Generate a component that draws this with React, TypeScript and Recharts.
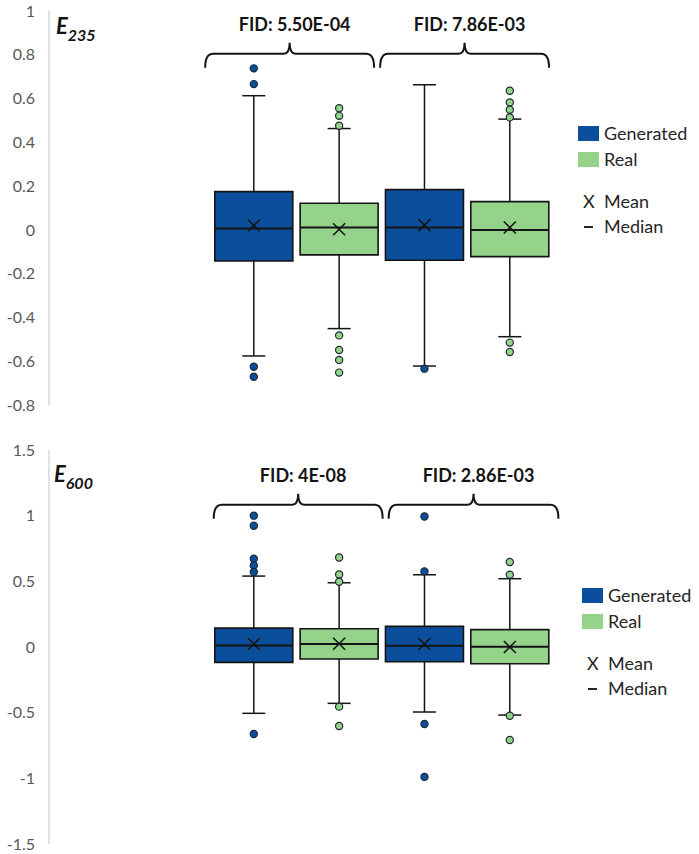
import React from 'react';
import { ComposedChart, XAxis, YAxis, Scatter, ReferenceArea, ReferenceLine, Legend } from 'recharts';

const GEN_COLOR = '#0B4F9C';
const REAL_COLOR = '#95D38B';
const INK = '#141414';
const FONT = 'Lato, "Open Sans", sans-serif';

// box order, left to right
const SERIES = ['Generated', 'Real', 'Generated', 'Real'];
const BOX_X = [1, 2, 3, 4];

// E235 panel
const e235Ticks = [-0.8, -0.6, -0.4, -0.2, 0, 0.2, 0.4, 0.6, 0.8, 1];
const e235Min = [-0.576, -0.451, -0.622, -0.488];
const e235Q1 = [-0.142, -0.114, -0.139, -0.122];
const e235Median = [0.006, 0.011, 0.011, 0.0];
const e235Q3 = [0.175, 0.122, 0.184, 0.129];
const e235Max = [0.613, 0.463, 0.663, 0.506];
const e235Mean = [0.02, 0.003, 0.022, 0.011];
const e235Outliers = [
  [0.738, 0.666, -0.625, -0.671],
  [0.556, 0.521, 0.476, -0.482, -0.549, -0.594, -0.652],
  [-0.634],
  [0.636, 0.582, 0.549, 0.514, -0.515, -0.558],
];
const e235Fid = ['FID: 5.50E-04', 'FID: 7.86E-03'];

// E600 panel
const e600Ticks = [-1.5, -1, -0.5, 0, 0.5, 1, 1.5];
const e600Min = [-0.505, -0.429, -0.495, -0.518];
const e600Q1 = [-0.117, -0.091, -0.112, -0.127];
const e600Median = [0.012, 0.023, 0.01, 0.002];
const e600Q3 = [0.144, 0.139, 0.157, 0.132];
const e600Max = [0.54, 0.489, 0.55, 0.52];
const e600Mean = [0.023, 0.025, 0.023, 0.0];
const e600Outliers = [
  [1.0, 0.923, 0.672, 0.621, 0.571, -0.662],
  [0.682, 0.552, 0.497, -0.454, -0.601],
  [0.994, 0.575, -0.586, -0.989],
  [0.647, 0.55, -0.523, -0.708],
];
const e600Fid = ['FID: 4E-08', 'FID: 2.86E-03'];

const HALF = 0.457; // half box width, in box units
const CAP = 0.135; // half whisker cap width

const colorOf = (s: string) => (s === 'Generated' ? GEN_COLOR : REAL_COLOR);

const braceShape = (text: string) => (p: any) => {
  const { x1, y1, x2 } = p;
  const y = y1;
  const mid = (x1 + x2) / 2;
  const d = `M${x1},${y + 14} Q${x1},${y} ${x1 + 8},${y} L${mid - 6},${y} Q${mid},${y} ${mid},${y - 11} Q${mid},${y} ${mid + 6},${y} L${x2 - 8},${y} Q${x2},${y} ${x2},${y + 14}`;
  return (
    <g>
      <path d={d} fill="none" stroke={INK} strokeWidth={2} />
      <text x={mid + 5} y={y - 23} textAnchor="middle" fontFamily={FONT} fontWeight="bold" fontSize={18} fill={INK}>
        {text}
      </text>
    </g>
  );
};

const MeanMark = (p: any) => (
  <g stroke={INK} strokeWidth={1.6}>
    <line x1={p.cx - 6} y1={p.cy - 6} x2={p.cx + 6} y2={p.cy + 6} />
    <line x1={p.cx - 6} y1={p.cy + 6} x2={p.cx + 6} y2={p.cy - 6} />
  </g>
);

const Dot = (fill: string) => (p: any) => (
  <circle cx={p.cx} cy={p.cy} r={3.6} fill={fill} stroke="#1c2a38" strokeWidth={1.2} />
);

const LegendBox = () => (
  <div style={{ position: 'relative', width: 120, height: 110, fontFamily: FONT, fontSize: 18, color: '#262626' }}>
    <div style={{ position: 'absolute', left: 0, top: 0, width: 21, height: 15, background: GEN_COLOR }} />
    <div style={{ position: 'absolute', left: 26, top: -4, lineHeight: '23px' }}>Generated</div>
    <div style={{ position: 'absolute', left: 0, top: 26, width: 21, height: 15, background: REAL_COLOR }} />
    <div style={{ position: 'absolute', left: 26, top: 22, lineHeight: '23px' }}>Real</div>
    <div style={{ position: 'absolute', left: 5, top: 64, lineHeight: '23px' }}>X</div>
    <div style={{ position: 'absolute', left: 26, top: 64, lineHeight: '23px' }}>Mean</div>
    <div style={{ position: 'absolute', left: 6, top: 100, width: 9, height: 1.5, background: '#262626' }} />
    <div style={{ position: 'absolute', left: 26, top: 89, lineHeight: '23px' }}>Median</div>
  </div>
);

type PanelProps = {
  ticks: number[];
  min: number[];
  q1: number[];
  median: number[];
  q3: number[];
  max: number[];
  mean: number[];
  outliers: number[][];
  fid: string[];
  braces: number[][];
  braceY: number;
  margin: { top: number; bottom: number };
  legendPos: { left: number; top: number };
};

function BoxPanel(props: PanelProps) {
  const { ticks, min, q1, median, q3, max, mean, outliers, fid, braces, braceY, margin, legendPos } = props;
  const meanData = BOX_X.map((x, i) => ({ x, y: mean[i] }));
  const outData = (name: string) =>
    BOX_X.flatMap((x, i) => (SERIES[i] === name ? outliers[i].map((y) => ({ x, y })) : []));

  return (
    <ComposedChart width={699} height={427} margin={{ top: margin.top, right: 138, bottom: margin.bottom, left: 0 }}>
      <XAxis type="number" dataKey="x" domain={[-1.4, 4.6]} hide allowDataOverflow />
      <YAxis
        type="number"
        domain={[ticks[0], ticks[ticks.length - 1]]}
        ticks={ticks}
        interval={0}
        width={49}
        allowDataOverflow
        tickLine={false}
        tickSize={0}
        tickMargin={14}
        axisLine={{ stroke: '#d9d9d9', strokeWidth: 1.5 }}
        tick={{ fill: '#595959', fontSize: 16, fontFamily: FONT }}
        tickFormatter={(v: number) => String(v)}
      />
      {BOX_X.map((x, i) => (
        <ReferenceArea
          key={`box${i}`}
          x1={x - HALF}
          x2={x + HALF}
          y1={q1[i]}
          y2={q3[i]}
          fill={colorOf(SERIES[i])}
          fillOpacity={1}
          stroke={INK}
          strokeWidth={1.6}
        />
      ))}
      {BOX_X.flatMap((x, i) => [
        <ReferenceLine key={`wu${i}`} segment={[{ x, y: q3[i] }, { x, y: max[i] }]} stroke={INK} strokeWidth={1.5} />,
        <ReferenceLine key={`wl${i}`} segment={[{ x, y: min[i] }, { x, y: q1[i] }]} stroke={INK} strokeWidth={1.5} />,
        <ReferenceLine key={`cu${i}`} segment={[{ x: x - CAP, y: max[i] }, { x: x + CAP, y: max[i] }]} stroke={INK} strokeWidth={1.5} />,
        <ReferenceLine key={`cl${i}`} segment={[{ x: x - CAP, y: min[i] }, { x: x + CAP, y: min[i] }]} stroke={INK} strokeWidth={1.5} />,
        <ReferenceLine key={`md${i}`} segment={[{ x: x - HALF, y: median[i] }, { x: x + HALF, y: median[i] }]} stroke={INK} strokeWidth={2} />,
      ])}
      {braces.map((b, i) => (
        <ReferenceLine
          key={`brace${i}`}
          segment={[{ x: b[0], y: braceY }, { x: b[1], y: braceY }]}
          stroke={INK}
          shape={braceShape(fid[i])}
        />
      ))}
      <Scatter data={meanData} dataKey="y" shape={MeanMark} isAnimationActive={false} />
      <Scatter data={outData('Generated')} dataKey="y" shape={Dot(GEN_COLOR)} isAnimationActive={false} />
      <Scatter data={outData('Real')} dataKey="y" shape={Dot(REAL_COLOR)} isAnimationActive={false} />
      <Legend
        layout="horizontal"
        verticalAlign="middle"
        align="center"
        content={() => <LegendBox />}
        wrapperStyle={{ position: 'absolute', left: legendPos.left, top: legendPos.top, width: 120, height: 110 }}
      />
    </ComposedChart>
  );
}

const PanelLabel = ({ name, sub, x, y }: { name: string; sub: string; x: number; y: number }) => (
  <text x={x} y={y} fontFamily={FONT} fontWeight="bold" fontStyle="italic" fontSize={22} fill={INK}>
    {name}
    <tspan fontSize={16} dy={7}>{sub}</tspan>
  </text>
);

export default function App() {
  return (
    <div style={{ position: 'absolute', left: 0, top: 0, width: 699, height: 854, background: '#fff' }}>
      <BoxPanel
        ticks={e235Ticks}
        min={e235Min}
        q1={e235Q1}
        median={e235Median}
        q3={e235Q3}
        max={e235Max}
        mean={e235Mean}
        outliers={e235Outliers}
        fid={e235Fid}
        braces={[[0.43, 2.41], [2.48, 4.46]]}
        braceY={0.805}
        margin={{ top: 11, bottom: 22 }}
        legendPos={{ left: 578, top: 126 }}
      />
      <BoxPanel
        ticks={e600Ticks}
        min={e600Min}
        q1={e600Q1}
        median={e600Median}
        q3={e600Q3}
        max={e600Max}
        mean={e600Mean}
        outliers={e600Outliers}
        fid={e600Fid}
        braces={[[0.53, 2.51], [2.58, 4.57]]}
        braceY={1.083}
        margin={{ top: 23, bottom: 10 }}
        legendPos={{ left: 582, top: 161 }}
      />
      <svg width={699} height={854} style={{ position: 'absolute', left: 0, top: 0, pointerEvents: 'none' }}>
        <PanelLabel name="E" sub="235" x={56} y={34} />
        <PanelLabel name="E" sub="600" x={54} y={482} />
      </svg>
    </div>
  );
}
